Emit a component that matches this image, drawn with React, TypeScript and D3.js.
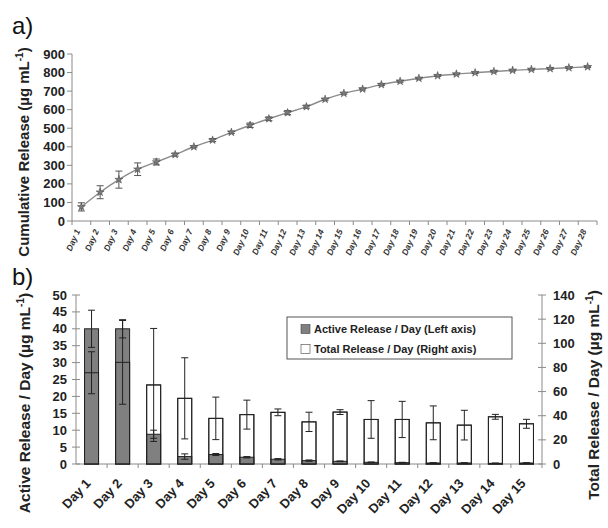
import React from "react";
import * as d3 from "d3";

const daysA = Array.from({ length: 28 }, (_, i) => `Day ${i + 1}`);
const cumMean = [76, 155, 223, 279, 318, 358, 400, 436, 478, 516, 551, 584, 616, 656, 688, 711, 735, 753, 769, 783, 792, 799, 806, 812, 817, 821, 826, 831];
const cumErr = [22, 35, 46, 34, 16, 8, 5, 8, 6, 12, 10, 11, 8, 5, 5, 5, 5, 5, 4, 4, 4, 4, 4, 4, 4, 4, 4, 4];
const ticksA = [0, 100, 200, 300, 400, 500, 600, 700, 800, 900];

const daysB = Array.from({ length: 15 }, (_, i) => `Day ${i + 1}`);
const activeMean = [40, 40, 8.8, 2.2, 2.8, 2.0, 1.4, 1.0, 0.8, 0.5, 0.4, 0.3, 0.3, 0.2, 0.3];
const activeErr = [5.5, 2.7, 1.2, 0.8, 0.3, 0.2, 0.2, 0.2, 0.1, 0.1, 0.1, 0.1, 0.1, 0.1, 0.1];
const totalMean = [75.6, 84.2, 65.5, 54.4, 37.8, 40.9, 42.8, 34.9, 43, 36.9, 36.9, 34.1, 32.2, 39.1, 33.3];
const totalErr = [17.4, 34.7, 46.8, 33.6, 17.6, 12.0, 2.8, 8, 2, 15.6, 15, 14, 12.3, 2, 3.7];
const ticksBL = [0, 5, 10, 15, 20, 25, 30, 35, 40, 45, 50];
const ticksBR = [0, 20, 40, 60, 80, 100, 120, 140];
const legendLabels = ["Active Release / Day (Left axis)", "Total Release / Day (Right axis)"];

const FONT = "'Liberation Sans', Arial, sans-serif";
const AXIS = "#8a8a8a";

export default function App() {
  // Chart a
  const xA = d3.scaleBand<string>().domain(daysA).range([72, 597]);
  const yA = d3.scaleLinear().domain([0, 900]).range([221, 54]);
  const lineA = d3
    .line<number>()
    .x((_, i) => xA(daysA[i])! + xA.bandwidth() / 2)
    .y((d) => yA(d))
    .curve(d3.curveCatmullRom);
  const star = d3.symbol().type(d3.symbolStar).size(20)()!;

  // Chart b
  const xB = d3.scaleBand<string>().domain(daysB).range([76, 542]);
  const yL = d3.scaleLinear().domain([0, 50]).range([464, 295]);
  const yR = d3.scaleLinear().domain([0, 140]).range([464, 295]);
  const bw = 14;

  const errBar = (cx: number, y1: number, y2: number, key: string, color: string, cap: number) => (
    <g key={key} stroke={color} strokeWidth={1}>
      <line x1={cx} x2={cx} y1={y1} y2={y2} />
      <line x1={cx - cap} x2={cx + cap} y1={y1} y2={y1} />
      <line x1={cx - cap} x2={cx + cap} y1={y2} y2={y2} />
    </g>
  );

  const unit = (
    <>
      (µg mL<tspan dy={-6} fontSize={10}>-1</tspan>
      <tspan dy={6}>)</tspan>
    </>
  );

  return (
    <svg
      width={608}
      height={528}
      style={{ position: "absolute", left: 0, top: 0, background: "#fff" }}
      fontFamily={FONT}
    >
      <rect width={608} height={528} fill="#fff" />
      {/* ---- Chart a ---- */}
      <text x={12} y={34} fontSize={24} fill="#111">a)</text>
      <text transform="translate(29,152) rotate(-90)" textAnchor="middle" fontSize={15} fontWeight="bold" fill="#222">
        Cumulative Release {unit}
      </text>
      <line x1={72} x2={72} y1={yA(900)} y2={yA(0)} stroke={AXIS} />
      {ticksA.map((t) => (
        <g key={t}>
          <line x1={67} x2={72} y1={yA(t)} y2={yA(t)} stroke={AXIS} />
          <text x={65} y={yA(t) + 4.5} textAnchor="end" fontSize={13} fontWeight="bold" fill="#222">
            {t}
          </text>
        </g>
      ))}
      <line x1={72} x2={597} y1={yA(0)} y2={yA(0)} stroke={AXIS} />
      {daysA.map((d, i) => {
        const x0 = xA(d)!;
        const cx = x0 + xA.bandwidth() / 2;
        return (
          <g key={d}>
            <line x1={x0 + xA.bandwidth()} x2={x0 + xA.bandwidth()} y1={yA(0)} y2={yA(0) + 4} stroke={AXIS} />
            {i === 0 && <line x1={x0} x2={x0} y1={yA(0)} y2={yA(0) + 4} stroke={AXIS} />}
            <text
              transform={`translate(${cx - 1},${yA(0) + 10}) rotate(-66)`}
              textAnchor="end"
              fontSize={8.5}
              fontWeight="bold"
              fontStyle="italic"
              fill="#333"
            >
              {d}
            </text>
          </g>
        );
      })}
      <path d={lineA(cumMean)!} fill="none" stroke="#8c8c8c" strokeWidth={1.4} />
      {cumMean.map((v, i) => {
        const cx = xA(daysA[i])! + xA.bandwidth() / 2;
        return (
          <g key={i}>
            {errBar(cx, yA(v + cumErr[i]), yA(v - cumErr[i]), `e${i}`, "#555", 3.5)}
            <path d={star} transform={`translate(${cx},${yA(v)})`} fill="#7a7a7a" stroke="#444" strokeWidth={0.5} />
          </g>
        );
      })}

      {/* ---- Chart b ---- */}
      <text x={12} y={285} fontSize={24} fill="#111">b)</text>
      <text transform="translate(30,403) rotate(-90)" textAnchor="middle" fontSize={15.5} fontWeight="bold" fill="#222">
        Active Release / Day {unit}
      </text>
      <text transform="translate(599,395) rotate(-90)" textAnchor="middle" fontSize={15.5} fontWeight="bold" fill="#222">
        Total Release / Day {unit}
      </text>
      <line x1={76} x2={76} y1={yL(50)} y2={yL(0)} stroke={AXIS} />
      {ticksBL.map((t) => (
        <g key={t}>
          <line x1={72} x2={80} y1={yL(t)} y2={yL(t)} stroke={AXIS} />
          <text x={67} y={yL(t) + 4.5} textAnchor="end" fontSize={13} fontWeight="bold" fill="#222">
            {t}
          </text>
        </g>
      ))}
      <line x1={542} x2={542} y1={yR(140)} y2={yR(0)} stroke={AXIS} />
      {ticksBR.map((t) => (
        <g key={t}>
          <line x1={538} x2={546} y1={yR(t)} y2={yR(t)} stroke={AXIS} />
          <text x={553} y={yR(t) + 4.5} textAnchor="start" fontSize={13} fontWeight="bold" fill="#222">
            {t}
          </text>
        </g>
      ))}
      <line x1={76} x2={542} y1={yL(0)} y2={yL(0)} stroke={AXIS} />
      {daysB.map((d) => {
        const x0 = xB(d)!;
        const cx = x0 + xB.bandwidth() / 2;
        return (
          <g key={d}>
            <line x1={x0 + xB.bandwidth()} x2={x0 + xB.bandwidth()} y1={yL(0)} y2={yL(0) + 4} stroke={AXIS} />
            <text
              transform={`translate(${cx},${yL(0) + 20}) rotate(-47)`}
              textAnchor="end"
              fontSize={13}
              fontWeight="bold"
              fill="#222"
            >
              {d}
            </text>
          </g>
        );
      })}
      {daysB.map((d, i) => {
        const cx = xB(d)! + xB.bandwidth() / 2;
        const x = cx - bw / 2;
        return (
          <g key={`bar${i}`}>
            <rect x={x} y={yR(totalMean[i])} width={bw} height={yR(0) - yR(totalMean[i])} fill="#fff" stroke="#222" strokeWidth={1} />
            <rect x={x} y={yL(activeMean[i])} width={bw} height={yL(0) - yL(activeMean[i])} fill="#808080" stroke="#222" strokeWidth={1} />
            <rect x={x} y={yR(totalMean[i])} width={bw} height={yR(0) - yR(totalMean[i])} fill="none" stroke="#222" strokeWidth={1} />
            {errBar(cx, yR(totalMean[i] + totalErr[i]), yR(totalMean[i] - totalErr[i]), `te${i}`, "#222", 3.5)}
            {errBar(cx, yL(activeMean[i] + activeErr[i]), yL(activeMean[i] - activeErr[i]), `ae${i}`, "#222", 3.5)}
          </g>
        );
      })}
      {/* legend */}
      <rect x={287} y={317} width={225} height={42} fill="#fff" stroke="#555" />
      <rect x={301} y={324.5} width={9} height={9} fill="#808080" stroke="#444" strokeWidth={0.6} />
      <rect x={301} y={344.5} width={9} height={9} fill="#fff" stroke="#444" strokeWidth={0.6} />
      <text x={314} y={333} fontSize={11} fontWeight="bold" fill="#222">{legendLabels[0]}</text>
      <text x={314} y={353} fontSize={11} fontWeight="bold" fill="#222">{legendLabels[1]}</text>
    </svg>
  );
}
